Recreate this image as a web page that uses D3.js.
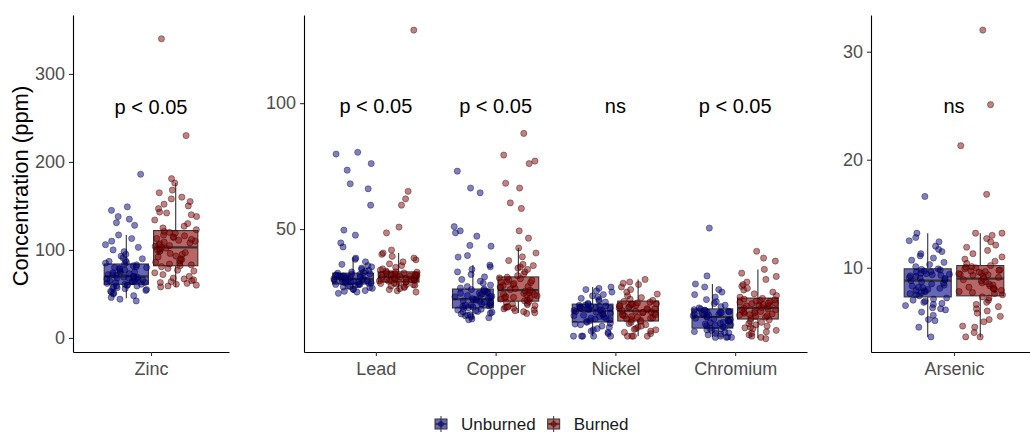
<!DOCTYPE html>
<html>
<head>
<meta charset="utf-8">
<script src="https://cdn.jsdelivr.net/npm/d3@7"></script>
<style>
  body { margin: 0; background: #fff; }
  svg { font-family: "Liberation Sans", Arial, Helvetica, sans-serif; }
</style>
</head>
<body>
<svg id="chart" width="1030" height="433"></svg>
<script>
// groups + elements
const groups = ["Unburned", "Burned"];
const elements = ["Zinc", "Lead", "Copper", "Nickel", "Chromium", "Arsenic"];
const panelCats = [["Zinc"], ["Lead", "Copper", "Nickel", "Chromium"], ["Arsenic"]];
const panelTicks = [[0, 100, 200, 300], [50, 100], [10, 20, 30]];

// p value labels (one per element)
const sigText = ["p < 0.05", "p < 0.05", "p < 0.05", "ns", "p < 0.05", "ns"];
const sigY = [263, 99, 99, 99, 99, 25];

// box stats, order = elements
const unburnedLo  = [45, 24.6, 14.3, 7.5, 7.1, 3.6];
const unburnedQ1  = [61, 28.2, 18.7, 13.1, 10.7, 7.3];
const unburnedMed = [70, 30.2, 22.2, 17.5, 15.1, 8.8];
const unburnedQ3  = [84, 32.5, 26.2, 20.2, 18.3, 9.9];
const unburnedHi  = [117, 38.5, 35.7, 27, 28.2, 13.2];

const burnedLo  = [58, 25, 16.7, 7.5, 6.7, 3.6];
const burnedQ1  = [82, 29, 21.4, 13.5, 14.3, 7.4];
const burnedMed = [103, 31, 25.8, 17.5, 18.7, 9.0];
const burnedQ3  = [122, 33, 31, 21.4, 22.6, 10.2];
const burnedHi  = [176, 40.5, 42.5, 30, 34, 13.2];

// sample points (ppm)
const zincUnburned = [42, 44, 46, 48, 50, 51, 52, 53, 54, 55, 56, 57, 57, 58, 59, 59, 60, 60,
  61, 61, 62, 63, 63, 64, 64, 65, 65, 66, 66, 67, 67, 68, 68, 69, 69, 70,
  70, 71, 72, 72, 73, 74, 75, 75, 76, 77, 78, 79, 80, 80, 81, 82, 83, 84,
  85, 86, 87, 88, 90, 91, 93, 95, 98, 100, 103, 106, 110, 113, 117, 128, 131, 135, 138, 145, 149, 186];
const zincBurned = [58, 59, 60, 61, 62, 63, 64, 65, 66, 67, 68, 70, 72, 74, 76, 77, 79, 81,
  82, 83, 84, 85, 86, 88, 89, 90, 92, 93, 95, 96, 97, 98, 99, 100, 101, 102,
  103, 104, 105, 106, 107, 108, 109, 110, 111, 112, 113, 114, 115, 116, 117, 119, 120, 121,
  123, 125, 127, 130, 134, 138, 140, 142, 143, 147, 150, 152, 155, 158, 160, 165, 168, 176, 181, 230, 340];

const leadUnburned = [24.5, 25, 25.3, 25.6, 26, 26.2, 26.5, 26.8, 27, 27.2, 27.4, 27.6, 27.8, 28, 28,
  28.3, 28.5, 28.6, 28.8, 29, 29.1, 29.3, 29.4, 29.6, 29.7, 29.9, 30, 30.1, 30.2, 28.9,
  30.3, 30.5, 30.6, 30.8, 31, 31.1, 31.3, 31.4, 31.6, 31.8, 32, 32.1, 32.3, 32.5, 30.9,
  32.7, 33, 33.3, 33.6, 34, 34.5, 35, 35.5, 36, 37, 38, 38.5, 42.9, 44.5, 47.6, 49.6, 59.5, 66, 68, 73.4, 76, 79.8, 80.5];
const leadBurned = [25, 25.5, 26, 26.4, 26.8, 27.1, 27.4, 27.7, 28, 28.2, 28.4, 28.6, 28.8, 29, 27.9,
  29.1, 29.3, 29.4, 29.6, 29.7, 29.9, 30, 30.2, 30.3, 30.5, 30.6, 30.8, 30.9, 31, 29.8,
  31.1, 31.3, 31.4, 31.6, 31.7, 31.9, 32, 32.2, 32.3, 32.5, 32.6, 32.8, 32.9, 33, 31.8,
  33.3, 33.7, 34.2, 34.8, 35.5, 36.2, 37, 37.8, 38.5, 39.2, 40, 40.5, 41.7, 48.5, 50.8, 59.5, 62, 65, 129];

const copperUnburned = [14, 14.3, 14.8, 15.2, 15.6, 16, 16.3, 16.6, 17, 17.3, 17.6, 17.9, 18.2, 18.5, 15.9, 17.1,
  18.8, 19, 19.3, 19.5, 19.8, 20, 20.3, 20.5, 20.8, 21, 21.3, 21.5, 21.8, 22, 22.2, 19.9,
  22.4, 22.7, 23, 23.3, 23.6, 23.9, 24.2, 24.5, 24.8, 25.1, 25.4, 25.7, 26, 26.2, 23.1, 24.6,
  26.6, 27.2, 27.8, 28.5, 29.3, 30, 31, 32, 33, 34, 35, 35.7, 38.9, 39.5, 43.2, 43.5, 47.2, 48.5, 49.3, 51, 64.4, 66.3, 73];
const copperBurned = [16.5, 16.8, 17.2, 17.6, 18, 18.3, 18.6, 19, 19.3, 19.6, 20, 20.3, 20.6, 21, 21.3, 18.9,
  21.5, 21.8, 22.2, 22.5, 22.9, 23.2, 23.5, 23.9, 24.2, 24.5, 24.8, 25.1, 25.4, 25.7, 22.7, 24,
  26, 26.4, 26.8, 27.2, 27.6, 28, 28.4, 28.8, 29.2, 29.6, 30, 30.3, 30.6, 30.9, 27, 29,
  31.5, 32.2, 33, 34, 34.5, 35, 35.5, 36, 37.5, 39, 40.5, 42.5, 46.4, 49.3, 58.2, 60.4, 66.3, 68.2, 76, 77, 79.4, 88];

const nickelUnburned = [7.5, 7.5, 7.5, 7.5, 7.5, 8.5, 9.5, 10, 10.5, 11, 11.5, 12, 12.3, 12.6, 13, 9,
  13.3, 13.6, 14, 14.3, 14.7, 15, 15.3, 15.6, 16, 16.3, 16.6, 17, 17.3, 17.5, 14.5, 15.8,
  17.7, 17.9, 18.1, 18.3, 18.5, 18.7, 18.9, 19.1, 19.3, 19.5, 19.7, 19.9, 20.1, 18.2, 18.8, 19.4,
  20.5, 21, 21.5, 22, 22.5, 23, 23.5, 24, 25, 26, 27, 26.5, 25.5];
const nickelBurned = [7.5, 7.5, 7.5, 7.5, 8.5, 9, 9.5, 10, 10.5, 11, 11.5, 12, 12.5, 13, 13.3, 10.2,
  13.7, 14, 14.3, 14.6, 15, 15.3, 15.6, 15.9, 16.2, 16.5, 16.8, 17.1, 17.4, 14.8, 16, 17,
  17.7, 18, 18.3, 18.6, 18.9, 19.2, 19.5, 19.8, 20.1, 20.4, 20.7, 21, 21.3, 18.4, 19.6, 20.2,
  21.7, 22.2, 22.8, 23.5, 24.2, 25, 26, 27, 28, 29, 30, 28.5];

const chromiumUnburned = [7, 7, 7, 7.2, 7.5, 8, 8.3, 8.6, 9, 9.3, 9.6, 10, 10.3, 10.6, 8.8, 9.8,
  10.9, 11.2, 11.6, 12, 12.3, 12.6, 13, 13.3, 13.6, 14, 14.3, 14.6, 15, 11.8, 12.8, 13.9,
  15.3, 15.6, 15.9, 16.2, 16.5, 16.8, 17.1, 17.4, 17.7, 18, 18.2, 15.8, 16.4, 17.2, 17.8, 16.9,
  18.7, 19.2, 19.8, 20.5, 21.2, 22, 23, 24, 25, 26, 27, 28.2, 31.4, 50.4];
const chromiumBurned = [6.5, 7, 7.5, 8, 8.6, 9.2, 9.8, 10.4, 11, 11.5, 12, 12.5, 13, 13.5, 14, 10.8,
  14.6, 15, 15.3, 15.6, 16, 16.3, 16.6, 17, 17.3, 17.6, 18, 18.3, 18.6, 15.8, 16.8, 17.8,
  18.9, 19.2, 19.5, 19.8, 20.1, 20.4, 20.7, 21, 21.3, 21.6, 21.9, 22.2, 22.5, 19.6, 20.6, 21.4,
  23, 23.6, 24.3, 25, 25.8, 26.5, 27.3, 28, 29, 30, 31.2, 32.5, 34, 37.3, 38.5, 41.2];

const arsenicUnburned = [3.6, 4.5, 5.1, 5.2, 5.6, 5.9, 6.1, 6.3, 6.5, 6.6, 6.8, 6.9, 7, 7.1, 7.2, 6.2, 6.7,
  7.4, 7.5, 7.6, 7.7, 7.8, 7.9, 8, 8.1, 8.2, 8.3, 8.4, 8.5, 8.6, 8.7, 8.8, 7.85, 8.15,
  8.9, 9, 9.05, 9.1, 9.2, 9.25, 9.3, 9.4, 9.45, 9.5, 9.6, 9.65, 9.7, 9.8, 9.85, 9.9, 9.35,
  10.1, 10.3, 10.5, 10.7, 10.9, 11.1, 11.3, 11.5, 11.7, 12, 12.4, 12.5, 12.8, 13.2, 16.6];
const arsenicBurned = [3.6, 3.6, 4, 4.5, 4.6, 5.2, 5.5, 5.8, 6, 6.2, 6.4, 6.6, 6.8, 7, 7.2, 7.3, 5,
  7.5, 7.6, 7.7, 7.8, 7.9, 8, 8.1, 8.2, 8.3, 8.4, 8.5, 8.6, 8.7, 8.8, 8.9, 9, 8.05,
  9.1, 9.2, 9.3, 9.35, 9.4, 9.5, 9.6, 9.65, 9.7, 9.8, 9.9, 10, 10.05, 10.1, 10.2, 9.45, 9.75,
  10.4, 10.6, 10.8, 11, 11.3, 11.6, 11.9, 12.1, 12.4, 12.7, 13, 13.2, 13.2, 16.8, 21.3, 25.1, 32];

const unburnedPoints = [zincUnburned, leadUnburned, copperUnburned, nickelUnburned, chromiumUnburned, arsenicUnburned];
const burnedPoints = [zincBurned, leadBurned, copperBurned, nickelBurned, chromiumBurned, arsenicBurned];

const colors = { Unburned: "#00008b", Burned: "#8b0000" };

// panel placement
const plotTop = 15, plotBottom = 352;
const panelX = [[73, 229], [304, 807], [871, 1037]];
const panelYDomain = [[-16, 367], [1.2, 135], [2.2, 33.4]];

const svg = d3.select("#chart");
// fixed seed so the jitter (x position only) is the same every run
const jitter = d3.randomUniform.source(d3.randomLcg(0.42))(-0.5, 0.5);

function boxData(g, i) {
  if (g == "Unburned") {
    return { lo: unburnedLo[i], q1: unburnedQ1[i], med: unburnedMed[i], q3: unburnedQ3[i], hi: unburnedHi[i], pts: unburnedPoints[i] };
  }
  return { lo: burnedLo[i], q1: burnedQ1[i], med: burnedMed[i], q3: burnedQ3[i], hi: burnedHi[i], pts: burnedPoints[i] };
}

panelCats.forEach(function(cats, p) {
  let x = d3.scalePoint().domain(cats).range(panelX[p]).padding(0.6);
  let y = d3.scaleLinear().domain(panelYDomain[p]).range([plotBottom, plotTop]);
  let unit = x.step();
  let g = svg.append("g");

  // axes
  let ya = g.append("g")
    .attr("transform", `translate(${panelX[p][0]},0)`)
    .call(d3.axisLeft(y).tickValues(panelTicks[p]).tickSize(4).tickSizeOuter(0).tickPadding(4));
  let xa = g.append("g")
    .attr("transform", `translate(0,${plotBottom})`)
    .call(d3.axisBottom(x).tickSize(4).tickSizeOuter(0).tickPadding(6));
  [ya, xa].forEach(a => {
    a.select(".domain").attr("stroke", "#000").attr("stroke-width", 1.1);
    a.selectAll(".tick line").attr("stroke", "#333").attr("stroke-width", 1.1);
    a.selectAll(".tick text").attr("fill", "#4d4d4d").style("font-size", "18px");
  });

  cats.forEach(function(cat) {
    let ei = elements.indexOf(cat);
    groups.forEach(function(grp, gi) {
      let b = boxData(grp, ei);
      let cx = x(cat) + (gi == 0 ? -0.19 : 0.19) * unit;
      let bw = 0.34 * unit;
      let col = colors[grp];

      g.append("line").attr("x1", cx).attr("x2", cx).attr("y1", y(b.hi)).attr("y2", y(b.q3))
        .attr("stroke", "#333").attr("stroke-width", 1.1);
      g.append("line").attr("x1", cx).attr("x2", cx).attr("y1", y(b.q1)).attr("y2", y(b.lo))
        .attr("stroke", "#333").attr("stroke-width", 1.1);
      g.append("rect")
        .attr("x", cx - bw / 2).attr("width", bw)
        .attr("y", y(b.q3)).attr("height", y(b.q1) - y(b.q3))
        .attr("fill", col).attr("fill-opacity", 0.6)
        .attr("stroke", "#333").attr("stroke-width", 1.1);
      g.append("line").attr("x1", cx - bw / 2).attr("x2", cx + bw / 2)
        .attr("y1", y(b.med)).attr("y2", y(b.med))
        .attr("stroke", "#333").attr("stroke-width", 2.2);

      // jittered points
      g.selectAll(null).data(b.pts).enter().append("circle")
        .attr("cx", d => cx + jitter() * bw * 0.95)
        .attr("cy", d => y(d))
        .attr("r", 3.1)
        .attr("fill", col).attr("fill-opacity", 0.5)
        .attr("stroke", "#000").attr("stroke-opacity", 0.45).attr("stroke-width", 0.8);
    });

    g.append("text")
      .attr("x", x(cat)).attr("y", y(sigY[ei])).attr("dy", "0.35em")
      .attr("text-anchor", "middle").style("font-size", "20px").attr("fill", "#000")
      .text(sigText[ei]);
  });
});

// y title
svg.append("text")
  .attr("transform", "translate(28,186) rotate(-90)")
  .attr("text-anchor", "middle").style("font-size", "22px").attr("fill", "#000")
  .text("Concentration (ppm)");

// legend
let lx = 435;
groups.forEach(function(grp) {
  let lg = svg.append("g").attr("transform", `translate(${lx},424)`);
  lg.append("line").attr("x1", 6).attr("x2", 6).attr("y1", -8).attr("y2", 8).attr("stroke", "#333").attr("stroke-width", 1);
  lg.append("rect").attr("x", 0).attr("y", -5).attr("width", 12).attr("height", 10)
    .attr("fill", colors[grp]).attr("fill-opacity", 0.6).attr("stroke", "#333").attr("stroke-width", 1);
  lg.append("line").attr("x1", 0).attr("x2", 12).attr("y1", 0).attr("y2", 0).attr("stroke", "#333").attr("stroke-width", 1.6);
  lg.append("circle").attr("cx", 6).attr("cy", 0).attr("r", 2.6)
    .attr("fill", colors[grp]).attr("fill-opacity", 0.5).attr("stroke", "#000").attr("stroke-opacity", 0.5).attr("stroke-width", 0.8);
  let t = lg.append("text").attr("x", 26).attr("y", 0).attr("dy", "0.35em")
    .style("font-size", "17px").attr("fill", "#1a1a1a").text(grp);
  lx += 26 + t.node().getComputedTextLength() + 12;
});
</script>
</body>
</html>
